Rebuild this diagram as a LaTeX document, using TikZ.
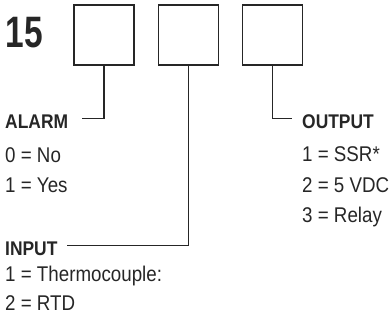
\documentclass[tikz,border=0pt]{standalone}
\usepackage{fontspec}
\setmainfont[FakeStretch=0.88]{Liberation Sans}
\newfontfamily\bigfont[FakeStretch=0.76]{Liberation Sans}
\begin{document}
\begin{tikzpicture}[x=1pt,y=-1pt,
  digitbox/.style={draw=black!85,line width=1.8pt,minimum size=60pt,inner sep=0pt},
  conn/.style={draw=black!85,line width=1.8pt},
  head/.style={anchor=base west,inner sep=0pt,font=\fontsize{19.8}{22}\selectfont\bfseries,text=black!85},
  item/.style={anchor=base west,inner sep=0pt,font=\fontsize{21.3}{24}\selectfont,text=black!85}]
\useasboundingbox (0,0) rectangle (390,321);
\node[anchor=base west,inner sep=0pt,font=\fontsize{44}{48}\selectfont\bigfont\bfseries,text=black!85] (num) at (5.5,48) {15};
\node[digitbox] (b1) at (104,35) {};
\node[digitbox] (b2) at (188.5,35) {};
\node[digitbox] (b3) at (272.5,35) {};
% left column
\node[head] (alarm) at (5,128) {ALARM};
\node[item] (a0) at (5,162) {0 = No};
\node[item] (a1) at (5,192) {1 = Yes};
\node[head] (input) at (5,255) {INPUT};
\node[item] (i1) at (5,281) {1 = Thermocouple:};
\node[item] (i2) at (5,310) {2 = RTD};
% right column
\node[head] (output) at (302,128) {OUTPUT};
\node[item] (o1) at (302,161) {1 = SSR*};
\node[item] (o2) at (302,192) {2 = 5 VDC};
\node[item] (o3) at (302,222) {3 = Relay};
% connectors
\coordinate (ea) at (82,118.5);
\coordinate (ei) at (67,245.5);
\coordinate (eo) at (292,118.5);
\draw[conn] (b1.south) |- (ea);
\draw[conn] (b2.south) |- (ei);
\draw[conn] (b3.south) |- (eo);
\end{tikzpicture}
\end{document}
